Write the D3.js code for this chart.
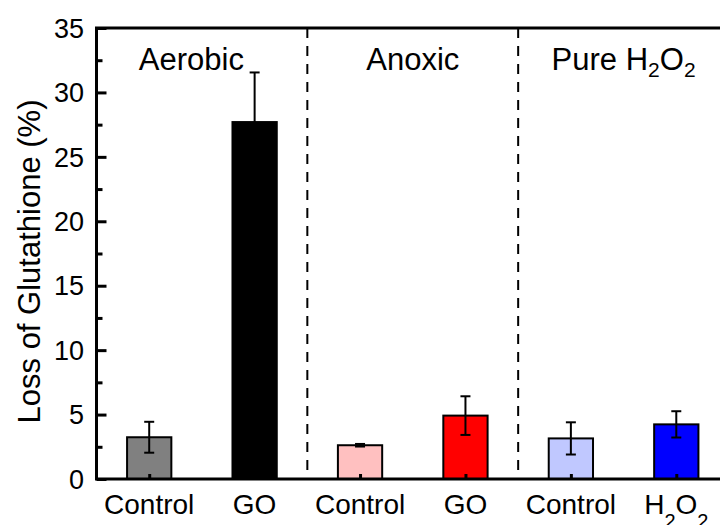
<!DOCTYPE html>
<html>
<head>
<meta charset="utf-8">
<script src="https://cdn.jsdelivr.net/npm/d3@7"></script>
<style>
  body { margin: 0; background: #fff; }
  svg { display: block; font-family: "Liberation Sans", Arial, sans-serif; }
</style>
</head>
<body>
<svg id="chart" width="720" height="525"></svg>
<script>
// data
const categories = ["Control", "GO", "Control", "GO", "Control", "H2O2"];
const values = [3.24, 27.7, 2.62, 4.92, 3.15, 4.24];
const errors = [1.2, 3.85, 0.1, 1.5, 1.25, 1.02];
const barColors = ["#808080", "#000000", "#ffc0c0", "#ff0000", "#c0c8ff", "#0000ff"];
const regionNames = ["Aerobic", "Anoxic", "Pure H2O2"];
const regionLabelAt = [0.4, 2.5, 4.5];
const dividers = [1.5, 3.5];
const yTicks = [0, 5, 10, 15, 20, 25, 30, 35];

const svg = d3.select("#chart");
const plotL = 96.5, plotR = 729, plotT = 28, plotB = 479;

const x = d3.scaleLinear().domain([-0.5, 5.5]).range([plotL, plotR]);
const y = d3.scaleLinear().domain([0, 35]).range([plotB, plotT]);
const barW = x(0.42) - x(0);

// write "H2O2" with subscripts
function chem(sel, txt, subSize, subShift) {
  const parts = txt.split(/(2)/).filter(s => s !== "");
  let shifted = false;
  parts.forEach(p => {
    if (p === "2") {
      sel.append("tspan").attr("font-size", subSize).attr("dy", subShift).text("2");
      shifted = true;
    } else {
      sel.append("tspan").attr("dy", shifted ? -subShift : 0).text(p);
      shifted = false;
    }
  });
}

// bars
svg.selectAll("rect.bar")
  .data(values)
  .enter().append("rect")
  .attr("class", "bar")
  .attr("x", (d, i) => x(i) - barW / 2)
  .attr("y", d => y(d))
  .attr("width", barW)
  .attr("height", d => y(0) - y(d))
  .attr("fill", (d, i) => barColors[i])
  .attr("stroke", "#000")
  .attr("stroke-width", 2);

// error bars
const eb = svg.append("g").attr("stroke", "#000").attr("stroke-width", 2);
values.forEach((v, i) => {
  const cx = x(i);
  eb.append("line").attr("x1", cx).attr("x2", cx)
    .attr("y1", y(v - errors[i])).attr("y2", y(v + errors[i]));
  [v - errors[i], v + errors[i]].forEach(e => {
    eb.append("line").attr("x1", cx - 5).attr("x2", cx + 5)
      .attr("y1", y(e)).attr("y2", y(e));
  });
});

// dashed dividers
svg.selectAll("line.div")
  .data(dividers)
  .enter().append("line")
  .attr("x1", d => x(d)).attr("x2", d => x(d))
  .attr("y1", plotT).attr("y2", plotB)
  .attr("stroke", "#000")
  .attr("stroke-width", 2)
  .attr("stroke-dasharray", "10,8");

// y axis with ticks inside
const yAxis = svg.append("g")
  .attr("transform", `translate(${plotL},0)`)
  .call(d3.axisRight(y).tickValues(yTicks).tickSize(10).tickFormat(""));
yAxis.select(".domain").remove();
yAxis.selectAll("line").attr("stroke-width", 3);
svg.append("g")
  .attr("transform", `translate(${plotL},0)`)
  .call(d3.axisRight(y).tickValues(d3.range(2.5, 35, 5)).tickSize(6).tickFormat(""))
  .call(g => g.select(".domain").remove())
  .selectAll("line").attr("stroke-width", 3);

svg.selectAll("text.ytick")
  .data(yTicks)
  .enter().append("text")
  .attr("x", 84)
  .attr("y", d => y(d))
  .attr("dy", "0.36em")
  .attr("text-anchor", "end")
  .attr("font-size", 27)
  .text(d => d);

// x ticks inside
const xAxis = svg.append("g")
  .attr("transform", `translate(0,${plotB})`)
  .call(d3.axisTop(x).tickValues(d3.range(6)).tickSize(5).tickFormat(""));
xAxis.select(".domain").remove();
xAxis.selectAll("line").attr("stroke-width", 3);

// frame lines
svg.append("path")
  .attr("d", `M${plotR},${plotT}H${plotL}V${plotB}H${plotR}`)
  .attr("fill", "none")
  .attr("stroke", "#000")
  .attr("stroke-width", 3);

// category labels
categories.forEach((c, i) => {
  const t = svg.append("text")
    .attr("x", x(i))
    .attr("y", 514)
    .attr("text-anchor", "middle")
    .attr("font-size", 28);
  chem(t, c, 20, 14);
});

// region labels
regionNames.forEach((r, i) => {
  const t = svg.append("text")
    .attr("x", x(regionLabelAt[i]))
    .attr("y", 70)
    .attr("text-anchor", "middle")
    .attr("font-size", 31);
  chem(t, r, 21, 7);
});

// y title
svg.append("text")
  .attr("transform", `translate(40,${(plotT + plotB) / 2 + 8}) rotate(-90)`)
  .attr("text-anchor", "middle")
  .attr("font-size", 31)
  .text("Loss of Glutathione (%)");
</script>
</body>
</html>
